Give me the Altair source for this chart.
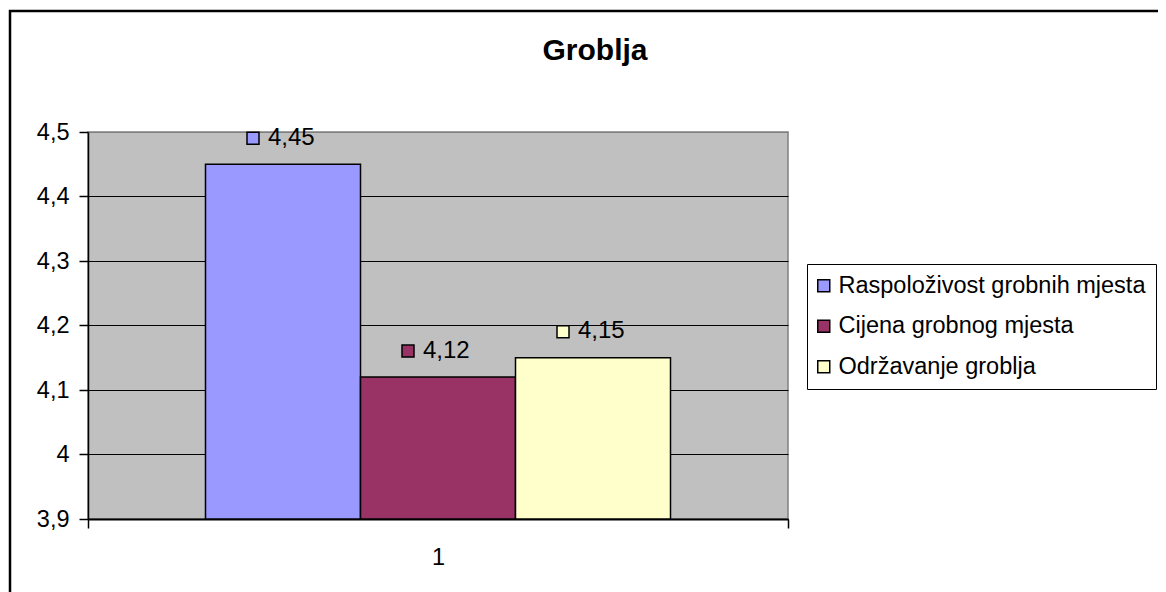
import altair as alt
import pandas as pd

categories = ["Raspoloživost grobnih mjesta", "Cijena grobnog mjesta", "Održavanje groblja"]
values = [4.45, 4.12, 4.15]
group_labels = ["1", "1", "1"]
colors = ["#9999FF", "#993366", "#FFFFCC"]
y_ticks = [3.9, 4.0, 4.1, 4.2, 4.3, 4.4, 4.5]
title_text = "Groblja"

FONT = "Liberation Sans"

df = pd.DataFrame({"series": categories, "value": values, "group": group_labels})

x_enc = alt.X(
    "group:N",
    scale=alt.Scale(paddingInner=0, paddingOuter=0),
    axis=alt.Axis(
        title=None, labelAngle=0, tickBand="extent", tickSize=9, tickColor="black",
        tickWidth=1.5, domainColor="black", domainWidth=2, labelFontSize=23.5,
        labelFont=FONT, labelColor="black", labelPadding=17, grid=False,
    ),
)
xo_enc = alt.XOffset("series:N", sort=categories,
                     scale=alt.Scale(paddingInner=0, paddingOuter=0.758))
y_enc = alt.Y(
    "value:Q",
    scale=alt.Scale(domain=[3.9, 4.5], zero=False, nice=False, clamp=True),
    axis=alt.Axis(
        title=None, values=y_ticks, format="~g",
        labelExpr="replace(datum.label, '.', ',')",
        tickSize=9, tickColor="black", tickWidth=1.5, domainColor="black", domainWidth=1.5,
        labelFontSize=23.5, labelFont=FONT, labelColor="black", labelPadding=10,
        grid=True,
        gridColor=alt.condition("datum.value >= 4.5", alt.value("#808080"), alt.value("black")),
        gridWidth=1, gridOpacity=1,
    ),
)
color_scale = alt.Scale(domain=categories, range=colors)

bars = alt.Chart(df).mark_bar(stroke="black", strokeWidth=1.5, opacity=1, clip=True).encode(
    x=x_enc, xOffset=xo_enc, y=y_enc,
    color=alt.Color(
        "series:N", sort=categories, scale=color_scale,
        legend=alt.Legend(
            title=None, orient="none", legendX=719, legendY=132,
            symbolType="square", symbolSize=144, symbolStrokeColor="black",
            symbolStrokeWidth=1.5, symbolOpacity=1, symbolOffset=-5,
            labelFontSize=23.5, labelFont=FONT, labelColor="black", labelLimit=600,
            labelOffset=3, strokeColor="black", fillColor="white", padding=10,
            rowPadding=15.5,
        ),
    ),
)

# small marker square drawn left of and above each bar's top centre (pixel offsets in the path)
marker_shape = "M -36 -32 L -24 -32 L -24 -20 L -36 -20 Z"
squares = alt.Chart(df).mark_point(
    shape=marker_shape, size=4, filled=True, stroke="black", strokeWidth=1.5, opacity=1
).encode(
    x=x_enc, xOffset=xo_enc, y=y_enc,
    color=alt.Color("series:N", sort=categories, scale=color_scale, legend=None),
)

texts = alt.Chart(df).transform_calculate(
    label="replace(format(datum.value, '.2f'), '.', ',')"
).mark_text(
    align="left", baseline="middle", dx=-15, dy=-26.5, fontSize=24, font=FONT, color="black"
).encode(x=x_enc, xOffset=xo_enc, y=y_enc, text="label:N")

title = alt.Chart(pd.DataFrame({"t": [title_text]})).mark_text(
    fontSize=30, fontWeight="bold", font=FONT, align="center", baseline="alphabetic", color="black"
).encode(text="t:N", x=alt.value(507), y=alt.value(-72))

border = alt.Chart(pd.DataFrame({"b": [0]})).mark_rect(
    filled=False, stroke="black", strokeWidth=2.5
).encode(x=alt.value(-78), x2=alt.value(1200), y=alt.value(-121), y2=alt.value(600))

chart = alt.layer(border, bars, squares, texts, title).properties(
    width=700, height=387,
    autosize=alt.AutoSizeParams(type="none"),
    padding={"left": 80, "top": 124, "right": 370, "bottom": 73},
    background="white",
).configure_view(fill="#C0C0C0", stroke="#808080", strokeWidth=1.5)

chart.save("out.html", embed_options={"renderer": "svg", "actions": False})
